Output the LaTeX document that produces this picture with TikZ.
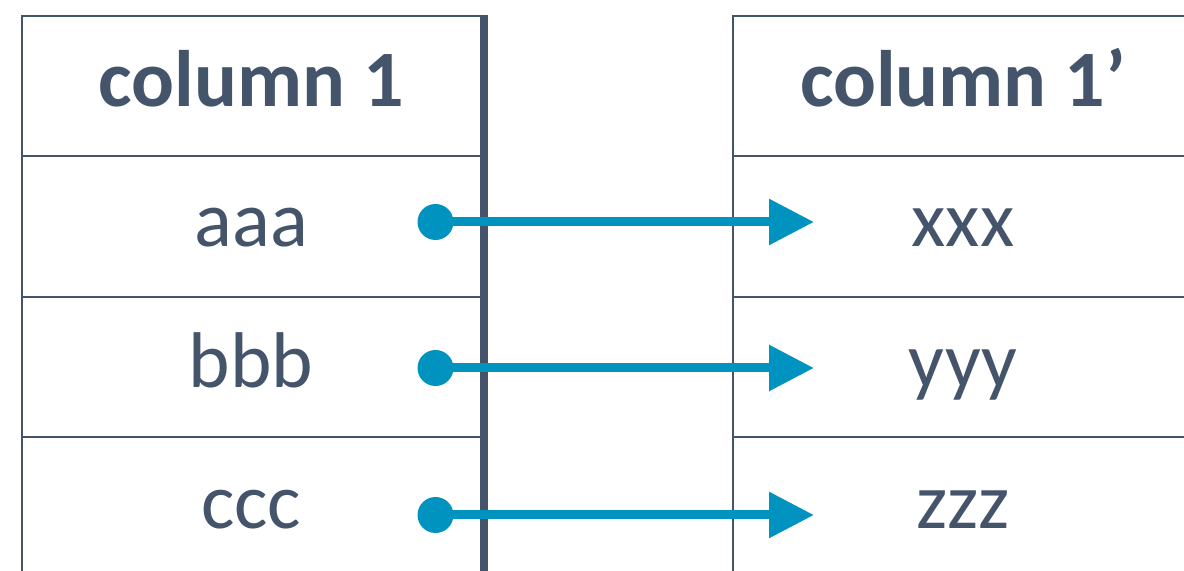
\documentclass[tikz,border=0pt]{standalone}
\usepackage{fontspec}
\setmainfont{Carlito}
\usetikzlibrary{arrows.meta}
\definecolor{slate}{HTML}{44546A}
\definecolor{flow}{HTML}{0093BF}
\begin{document}
\begin{tikzpicture}[x=0.5pt,y=-0.5pt,
  cell/.style={draw=slate, line width=1pt, minimum width=229.75pt, minimum height=70.2pt, inner sep=0pt, outer sep=0pt},
  head/.style={text=slate, font=\fontsize{40}{46}\selectfont\bfseries, anchor=base, inner sep=0pt},
  body/.style={text=slate, font=\fontsize{39.5}{46}\selectfont, anchor=base, inner sep=0pt},
  dot/.style={circle, fill=flow, minimum size=18pt, inner sep=0pt},
  link/.style={draw=flow, line width=4.5pt, -{Triangle[length=22.5pt,width=22pt]}}]
\clip (0,0) rectangle (1184,571);
\fill[white] (0,0) rectangle (1184,571);
% left table
\node[cell] (LH) at (251.25,86.2) {};
\node[cell] (L1) at (251.25,226.5) {};
\node[cell] (L2) at (251.25,366.8) {};
\node[cell] (L3) at (251.25,507.2) {};
% right table
\node[cell] (RH) at (963,86.2) {};
\node[cell] (R1) at (963,226.5) {};
\node[cell] (R2) at (963,366.8) {};
\node[cell] (R3) at (963,507.2) {};
% thick right border of left table
\draw[slate, line width=3.3pt] ([xshift=2pt,yshift=0.5pt]LH.north east) -- ([xshift=2pt,yshift=-40pt]L3.south east);
% texts
\node[head] (th1) at (251.25,107) {column 1};
\node[head] (th2) at (963,107) {column 1’};
\node[body] (ta) at (251.25,247) {aaa};
\node[body] (tb) at (251.25,388) {bbb};
\node[body] (tc) at (251.25,529) {ccc};
\node[body] (tx) at (963,247) {xxx};
\node[body] (ty) at (963,388) {yyy};
\node[body] (tz) at (963,529) {zzz};
% arrows
\node[dot] (d1) at (435.5,222) {};
\node[dot] (d2) at (435.5,368) {};
\node[dot] (d3) at (435.5,515) {};
\coordinate (e1) at (814,222);
\coordinate (e2) at (814,368);
\coordinate (e3) at (814,515);
\draw[link] (d1.center) -- (e1);
\draw[link] (d2.center) -- (e2);
\draw[link] (d3.center) -- (e3);
\end{tikzpicture}
\end{document}
